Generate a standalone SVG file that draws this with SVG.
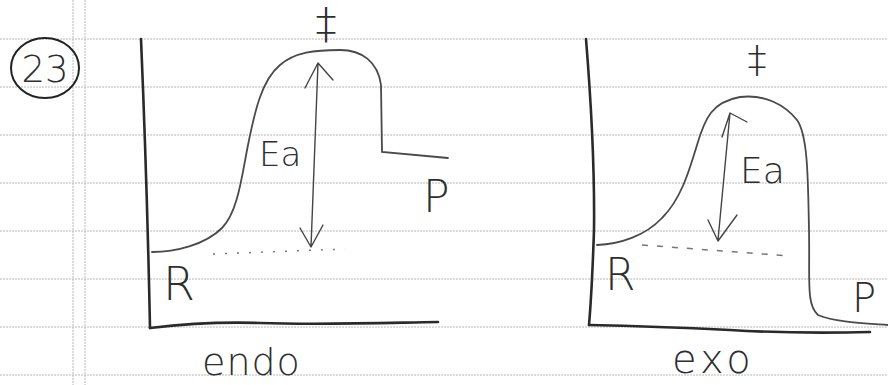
<svg xmlns="http://www.w3.org/2000/svg" width="888" height="385" viewBox="0 0 888 385">
<style>
.rule{stroke:#b8b8b8;stroke-width:1;stroke-dasharray:2 1;fill:none}
.ax{stroke:#2a2a2a;stroke-width:2.6;fill:none;stroke-linecap:round}
.cv{stroke:#4a4a4a;stroke-width:1.8;fill:none;stroke-linecap:round}
.ar{stroke:#444;stroke-width:1.4;fill:none;stroke-linecap:round;stroke-linejoin:round}
.dt{stroke:#777;stroke-width:1.5;fill:none}
.t{font-family:"DejaVu Sans","Liberation Sans",sans-serif;fill:#2e2e2e;font-weight:300}
</style>
<rect width="888" height="385" fill="#fff"/>
<g id="paper">
<path class="rule" d="M0,39H888M0,87H888M0,135H888M0,183H888M0,231H888M0,279H888M0,327H888M0,375H888M73,0V385M85,0V385"/>
</g>
<g id="label-23">
<ellipse cx="45" cy="68" rx="34" ry="30" fill="none" stroke="#222" stroke-width="2"/>
<text class="t" x="45" y="82" font-size="37" text-anchor="middle">23</text>
</g>
<g id="endo">
<path class="ax" d="M141,39 Q147,180 150,328"/>
<path class="ax" d="M150,328 C200,322 230,322 260,323 C320,325 380,323 438,322"/>
<path class="cv" d="M152,252 C175,252 205,245 222,228 C238,212 242,175 248,145 C255,110 262,80 280,65 C295,52 315,50 340,50 C362,50 378,62 381,85 L382,152 L448,158"/>
<path class="dt" d="M213,254 L345,249" stroke-dasharray="2 10"/>
<path class="ar" d="M318,63 L311,247 M305,88 L318,63 L333,80 M300,228 L311,247 L323,225"/>
<text class="t" x="326" y="38" font-size="42" text-anchor="middle">‡</text>
<text class="t" x="259" y="166" font-size="34">Ea</text>
<text class="t" x="423" y="212" font-size="44">P</text>
<text class="t" x="163" y="300" font-size="46">R</text>
<text class="t" x="202" y="375" font-size="38" letter-spacing="1">endo</text>
</g>
<g id="exo">
<path class="ax" d="M586,39 Q595,150 594,230 Q592,290 589,325"/>
<path class="ax" d="M589,325 C640,326 690,328 730,330 C780,333 830,333 870,332"/>
<path class="cv" d="M597,245 C620,244 645,236 662,218 C680,200 688,175 697,145 C705,118 712,102 740,97 C765,94 785,105 797,120 C808,135 808,180 809,230 C810,280 806,305 818,315 C835,322 860,323 888,325"/>
<path class="dt" d="M642,245 L790,256" stroke-dasharray="6 9"/>
<path class="ar" d="M730,113 L718,240 M722,137 L730,113 L747,122 M708,220 L718,241 L737,215"/>
<text class="t" x="757" y="72" font-size="38" text-anchor="middle">‡</text>
<text class="t" x="740" y="183" font-size="36">Ea</text>
<text class="t" x="605" y="290" font-size="44">R</text>
<text class="t" x="852" y="312" font-size="40">P</text>
<text class="t" x="672" y="373" font-size="40" letter-spacing="4">exo</text>
</g>
</svg>
